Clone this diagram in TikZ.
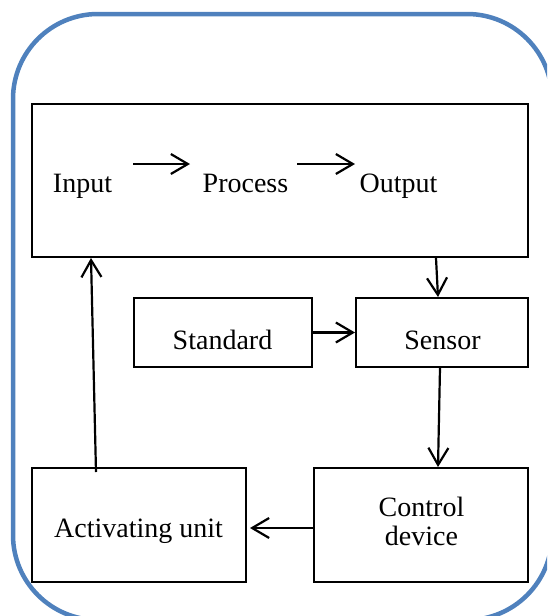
\documentclass[tikz,border=0pt]{standalone}
\usepackage{fontspec}
\setmainfont{Liberation Serif}
\newfontfamily\timesfont{Liberation Serif}
\usetikzlibrary{arrows.meta}
\definecolor{frameblue}{HTML}{4F81BD}
\begin{document}
\begin{tikzpicture}[x=1pt,y=-1pt,
  box/.style={draw=black, line width=2pt, inner sep=0pt},
  txt/.style={font=\timesfont\fontsize{28}{29}\selectfont, inner sep=0pt, anchor=base, align=center},
  conn/.style={-{Straight Barb[length=17pt,width=20pt]}, line width=2.2pt},
  frame/.style={draw=frameblue, line width=4.5pt, rounded corners=85pt}]
\useasboundingbox (0,0) rectangle (547,616);
\clip (0,0) rectangle (547,616);
\draw[frame] (13,14) rectangle (552,620);
% boxes
\node[box, minimum width=496pt, minimum height=153pt] (top) at (280,180.5) {};
\node[box, minimum width=178pt, minimum height=69pt] (std) at (222.5,332.5) {};
\node[box, minimum width=172pt, minimum height=69pt] (sens) at (442,332.5) {};
\node[box, minimum width=214pt, minimum height=114pt] (ctrl) at (421,525) {};
\node[box, minimum width=214pt, minimum height=114pt] (act) at (139,525) {};
% texts
\node[txt] (tin) at (82.5,192) {Input};
\node[txt] (tproc) at (245.5,192) {Process};
\node[txt] (tout) at (398.5,192) {Output};
\node[txt] (tstd) at (222.5,349) {Standard};
\node[txt] (tsens) at (442.5,349) {Sensor};
\node[txt] (tact) at (138.5,537) {Activating unit};
\node[txt] (tctrl) at (421.5,545) {Control\\device};
% inner arrows
\coordinate (a1s) at (133,164);
\coordinate (a1e) at (190,164);
\coordinate (a2s) at (297,164);
\coordinate (a2e) at (355,164);
\draw[conn] (a1s) -- (a1e);
\draw[conn] (a2s) -- (a2e);
% connectors
\draw[conn] ([xshift=156pt]top.south) -- ([xshift=-4pt]sens.north);
\draw[conn] (std.east) -- (sens.west);
\draw[conn] ([xshift=-2pt]sens.south) -- ([xshift=17pt]ctrl.north);
\draw[conn] ([yshift=-3pt]ctrl.west) -- ([xshift=3pt,yshift=-3pt]act.east);
\draw[conn] ([xshift=-43pt,yshift=-5pt]act.north) -- ([xshift=-189pt]top.south);
\end{tikzpicture}
\end{document}
